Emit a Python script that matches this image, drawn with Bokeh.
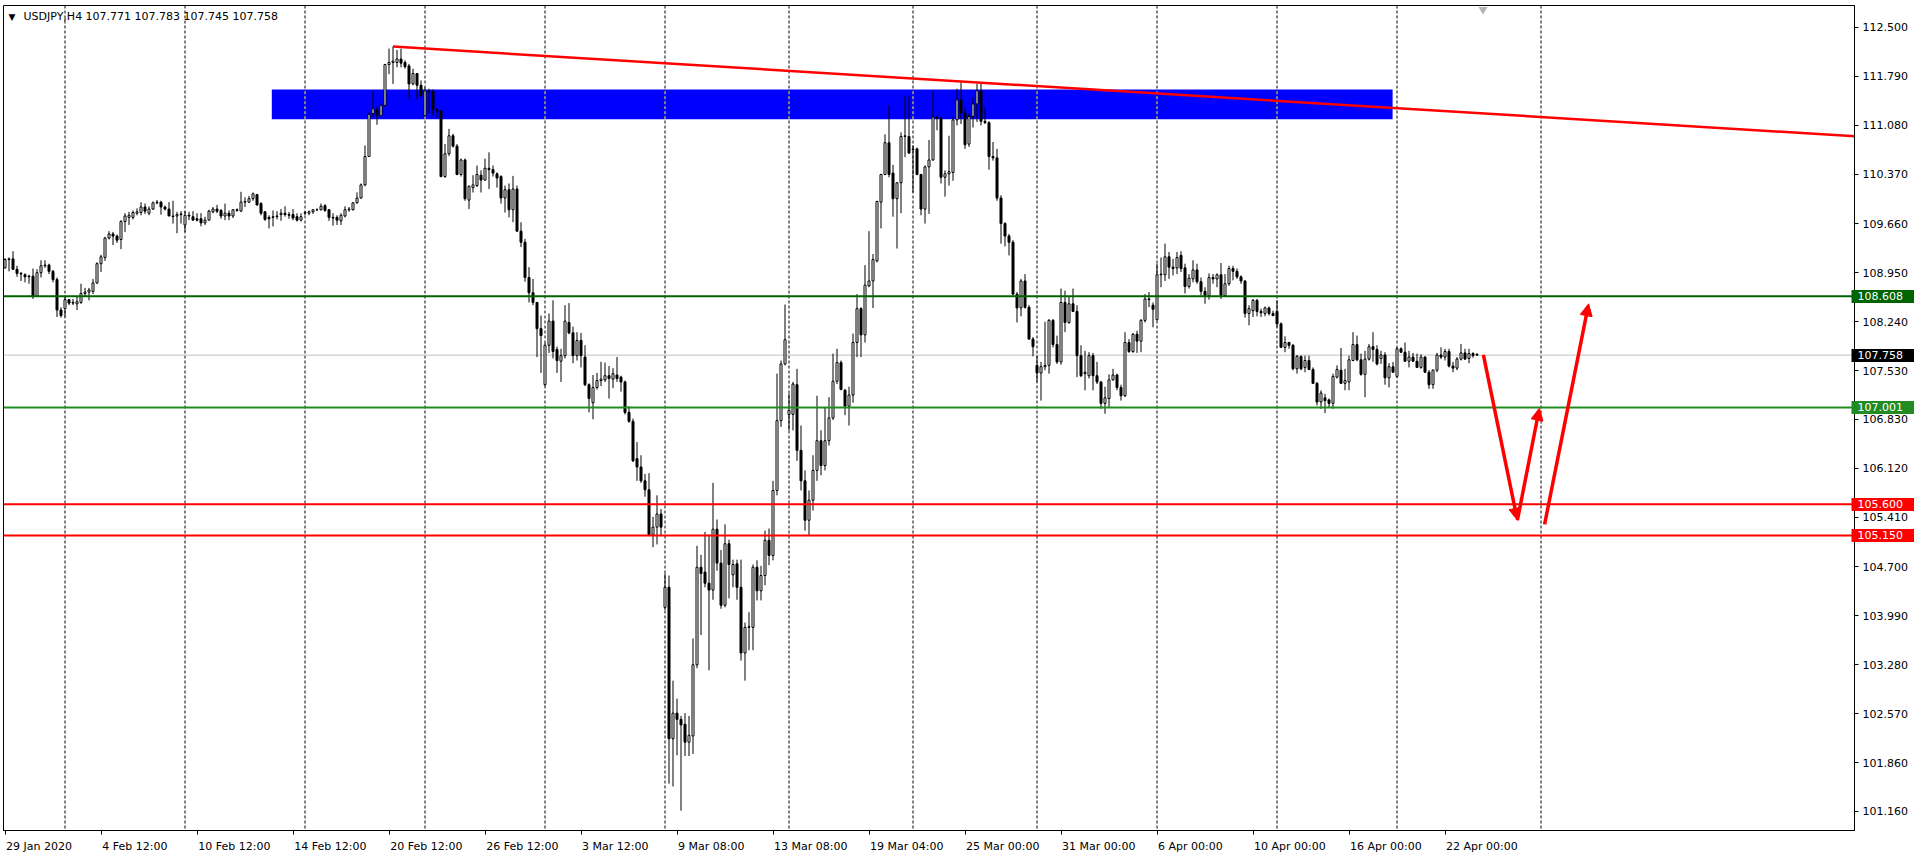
from bokeh.plotting import figure
from bokeh.models import (ColumnDataSource, FixedTicker, LinearAxis, Span, Label,
                          Arrow, NormalHead, NumeralTickFormatter, Range1d)
from bokeh.embed import file_html
from bokeh.resources import INLINE

# ---------------- data (USDJPY H4, one value per bar) ----------------
opens = [
    109.02, 109.14, 109.15, 109.00, 108.94, 108.92, 108.90, 108.90, 108.61, 108.95,
    109.05, 109.06, 108.97, 108.85, 108.41, 108.43, 108.56, 108.51, 108.50, 108.52,
    108.65, 108.67, 108.68, 108.80, 109.08, 109.17, 109.45, 109.51, 109.48, 109.43,
    109.69, 109.75, 109.75, 109.81, 109.82, 109.90, 109.81, 109.87, 109.96, 109.97,
    109.90, 109.87, 109.77, 109.77, 109.79, 109.64, 109.78, 109.76, 109.73, 109.73,
    109.67, 109.71, 109.83, 109.87, 109.85, 109.77, 109.81, 109.77, 109.86, 109.84,
    109.97, 109.97, 110.02, 110.08, 109.95, 109.83, 109.75, 109.75, 109.76, 109.79,
    109.81, 109.79, 109.79, 109.76, 109.71, 109.81, 109.81, 109.83, 109.86, 109.86,
    109.92, 109.86, 109.75, 109.75, 109.70, 109.77, 109.86, 109.86, 109.96, 110.03,
    110.22, 110.63, 111.25, 111.31, 111.22, 111.37, 111.96, 111.99, 111.99, 112.04,
    111.99, 111.94, 111.68, 111.83, 111.66, 111.22, 111.58, 111.57, 111.31, 111.29,
    110.34, 110.67, 110.93, 110.78, 110.37, 110.58, 110.00, 110.18, 110.21, 110.36,
    110.29, 110.46, 110.44, 110.38, 110.34, 110.03, 110.15, 109.86, 110.16, 109.55,
    109.39, 108.88, 108.66, 108.52, 108.14, 107.33, 107.90, 108.25, 107.84, 107.67,
    107.75, 108.23, 108.08, 107.75, 107.97, 107.73, 107.33, 107.07, 107.29, 107.39,
    107.40, 107.46, 107.41, 107.47, 107.44, 107.37, 106.93, 106.80, 106.26, 106.14,
    105.94, 105.81, 105.16, 105.27, 105.46, 104.11, 104.40, 102.21, 102.58, 102.49,
    102.42, 102.16, 102.25, 103.28, 104.69, 104.62, 104.46, 104.36, 105.24, 104.75,
    104.14, 105.03, 104.58, 104.74, 104.40, 103.45, 103.82, 103.82, 104.69, 104.35,
    104.57, 105.08, 104.86, 105.80, 106.81, 107.63, 106.90, 106.90, 107.33, 106.38,
    105.94, 105.37, 105.66, 106.09, 106.52, 106.16, 106.52, 106.85, 107.38, 107.65,
    107.25, 107.02, 107.18, 107.94, 108.43, 108.05, 108.76, 108.83, 109.12, 109.97,
    110.37, 110.83, 110.39, 110.02, 110.25, 110.92, 110.92, 110.73, 110.74, 110.37,
    109.87, 110.48, 110.58, 111.20, 111.19, 110.33, 110.38, 110.40, 111.16, 111.45,
    111.26, 110.81, 111.21, 111.39, 111.58, 111.14, 111.12, 110.63, 110.61, 110.03,
    109.66, 109.48, 109.39, 108.64, 108.44, 108.83, 108.45, 107.99, 107.61, 107.50,
    107.59, 107.61, 108.26, 107.91, 107.66, 108.52, 108.23, 108.50, 108.39, 107.75,
    107.49, 107.46, 107.75, 107.46, 107.37, 107.06, 107.13, 107.40, 107.47, 107.29,
    107.17, 107.94, 107.81, 108.06, 107.96, 108.26, 108.57, 108.48, 108.27, 108.92,
    108.92, 109.18, 109.03, 109.02, 109.20, 109.02, 108.75, 108.86, 108.99, 108.82,
    108.68, 108.62, 108.88, 108.86, 108.92, 108.62, 108.79, 109.01, 108.97, 108.89,
    108.83, 108.36, 108.40, 108.55, 108.39, 108.36, 108.44, 108.36, 108.39, 108.21,
    107.87, 107.94, 107.90, 107.56, 107.74, 107.58, 107.68, 107.55, 107.35, 107.08,
    107.14, 107.11, 107.06, 107.44, 107.54, 107.35, 107.37, 107.68, 107.91, 107.69,
    107.48, 107.70, 107.88, 107.84, 107.71, 107.76, 107.43, 107.59, 107.45, 107.85,
    107.80, 107.67, 107.73, 107.67, 107.58, 107.73, 107.51, 107.33, 107.54, 107.76,
    107.73, 107.81, 107.60, 107.57, 107.70, 107.79, 107.71, 107.78, 107.771,
]
highs = [
    109.16, 109.17, 109.26, 109.05, 108.96, 108.94, 108.92, 109.01, 109.00, 109.13,
    109.13, 109.08, 108.99, 108.88, 108.45, 108.60, 108.57, 108.57, 108.60, 108.79,
    108.73, 108.73, 108.86, 109.10, 109.21, 109.47, 109.55, 109.54, 109.50, 109.71,
    109.81, 109.83, 109.85, 109.88, 109.97, 109.95, 109.91, 109.98, 110.00, 109.99,
    109.92, 109.97, 109.99, 109.83, 109.84, 109.84, 109.83, 109.84, 109.81, 109.81,
    109.76, 109.86, 109.90, 109.93, 109.87, 109.95, 109.85, 109.87, 109.88, 110.12,
    110.04, 110.06, 110.11, 110.09, 109.97, 109.84, 109.78, 109.85, 109.84, 109.87,
    109.91, 109.83, 109.87, 109.81, 109.81, 109.84, 109.85, 109.87, 109.88, 109.95,
    109.94, 109.87, 109.81, 109.78, 109.81, 109.91, 109.90, 109.97, 110.11, 110.24,
    110.79, 111.27, 111.58, 111.35, 111.39, 111.97, 112.19, 112.22, 112.17, 112.19,
    112.02, 111.97, 111.90, 111.83, 111.73, 111.63, 111.61, 111.60, 111.33, 111.30,
    110.81, 111.03, 110.96, 110.81, 110.60, 110.60, 110.21, 110.36, 110.50, 110.43,
    110.60, 110.69, 110.50, 110.40, 110.36, 110.21, 110.24, 110.35, 110.21, 109.68,
    109.44, 109.03, 108.86, 108.52, 108.33, 107.93, 108.36, 108.55, 107.88, 107.85,
    108.48, 108.51, 108.17, 108.09, 108.08, 107.90, 107.35, 107.47, 107.50, 107.66,
    107.65, 107.60, 107.57, 107.73, 107.46, 107.39, 107.02, 106.84, 106.50, 106.31,
    106.04, 106.05, 105.42, 105.73, 105.53, 104.60, 104.57, 103.05, 102.79, 102.54,
    102.58, 102.54, 103.66, 105.00, 104.87, 105.20, 105.16, 105.91, 105.38, 104.94,
    105.31, 105.09, 104.80, 104.80, 104.80, 103.89, 104.04, 104.73, 104.79, 104.71,
    105.22, 105.25, 105.94, 107.49, 107.68, 108.49, 107.20, 107.37, 107.56, 106.74,
    106.09, 105.80, 106.31, 107.17, 106.67, 107.00, 107.15, 107.78, 107.85, 107.68,
    107.27, 107.30, 108.07, 108.64, 108.45, 109.06, 109.55, 109.22, 109.99, 110.38,
    110.95, 111.36, 110.51, 110.26, 110.98, 111.50, 111.50, 110.79, 110.76, 110.38,
    110.50, 110.87, 111.58, 111.22, 111.20, 110.43, 110.93, 111.20, 111.61, 111.70,
    111.34, 111.25, 111.49, 111.68, 111.70, 111.34, 111.14, 110.84, 110.74, 110.07,
    109.68, 109.51, 109.42, 108.67, 108.86, 108.93, 108.48, 108.02, 107.75, 107.66,
    108.24, 108.28, 108.28, 108.04, 108.72, 108.69, 108.60, 108.72, 108.48, 107.90,
    107.82, 107.80, 107.79, 107.66, 107.38, 107.30, 107.48, 107.56, 107.49, 107.33,
    108.09, 107.99, 108.08, 108.11, 108.28, 108.64, 108.67, 108.52, 109.08, 109.17,
    109.37, 109.25, 109.15, 109.25, 109.26, 109.08, 108.93, 109.13, 109.08, 108.88,
    108.74, 108.94, 108.93, 108.94, 109.09, 108.93, 109.05, 109.05, 109.01, 108.91,
    108.84, 108.48, 108.57, 108.57, 108.43, 108.46, 108.46, 108.40, 108.55, 108.23,
    108.03, 107.95, 107.92, 107.76, 107.75, 107.75, 107.75, 107.58, 107.37, 107.25,
    107.20, 107.13, 107.49, 107.61, 107.86, 107.56, 107.75, 108.09, 108.04, 107.78,
    107.82, 107.92, 108.09, 107.90, 107.82, 107.80, 107.64, 107.66, 107.87, 107.87,
    107.94, 107.82, 107.79, 107.78, 107.77, 107.74, 107.54, 107.55, 107.79, 107.87,
    107.85, 107.85, 107.66, 107.73, 107.92, 107.85, 107.85, 107.80, 107.783,
]
lows = [
    109.01, 108.97, 108.99, 108.89, 108.83, 108.81, 108.79, 108.57, 108.60, 108.88,
    109.02, 108.93, 108.81, 108.31, 108.30, 108.31, 108.48, 108.48, 108.41, 108.50,
    108.60, 108.55, 108.64, 108.79, 108.96, 109.12, 109.43, 109.35, 109.38, 109.29,
    109.54, 109.64, 109.72, 109.78, 109.78, 109.80, 109.78, 109.86, 109.94, 109.79,
    109.85, 109.77, 109.66, 109.52, 109.66, 109.54, 109.71, 109.71, 109.69, 109.62,
    109.64, 109.70, 109.81, 109.81, 109.73, 109.71, 109.71, 109.74, 109.83, 109.83,
    109.90, 109.96, 109.99, 109.92, 109.78, 109.70, 109.59, 109.62, 109.72, 109.70,
    109.76, 109.73, 109.71, 109.69, 109.69, 109.78, 109.78, 109.80, 109.84, 109.85,
    109.83, 109.70, 109.63, 109.64, 109.64, 109.75, 109.83, 109.85, 109.95, 110.02,
    110.20, 110.63, 111.20, 111.09, 111.21, 111.35, 111.82, 111.68, 111.92, 111.92,
    111.90, 111.46, 111.66, 111.45, 111.49, 111.21, 111.25, 111.22, 111.19, 110.33,
    110.32, 110.64, 110.76, 110.36, 110.34, 109.99, 109.87, 110.11, 110.19, 110.11,
    110.28, 110.16, 110.34, 110.18, 109.95, 109.82, 109.75, 109.68, 109.55, 109.32,
    108.82, 108.52, 108.48, 107.73, 107.50, 107.31, 107.79, 107.71, 107.50, 107.37,
    107.71, 108.06, 107.64, 107.68, 107.58, 107.31, 106.93, 106.83, 107.26, 107.31,
    107.37, 107.13, 107.28, 107.37, 107.23, 106.90, 106.78, 106.21, 105.94, 105.91,
    105.71, 105.14, 104.98, 105.02, 105.14, 104.07, 101.56, 101.52, 101.97, 101.17,
    101.96, 101.96, 101.99, 103.23, 103.71, 104.40, 103.20, 104.22, 104.64, 104.09,
    104.11, 104.24, 104.40, 104.22, 103.34, 103.05, 103.49, 103.49, 104.21, 104.21,
    104.43, 104.72, 104.79, 105.73, 106.72, 107.61, 106.67, 106.67, 106.23, 105.80,
    105.22, 105.14, 105.51, 105.94, 106.02, 106.09, 106.45, 106.82, 107.34, 107.25,
    106.89, 106.74, 107.07, 107.73, 107.73, 107.94, 108.74, 108.44, 109.10, 109.59,
    110.36, 110.33, 109.76, 109.30, 109.81, 110.62, 110.67, 110.11, 110.36, 109.78,
    109.66, 109.80, 110.57, 111.01, 110.24, 110.05, 110.21, 110.28, 111.08, 111.10,
    110.74, 110.77, 111.05, 111.13, 111.08, 111.10, 110.44, 110.57, 109.99, 109.37,
    109.33, 109.20, 108.62, 108.23, 108.32, 108.43, 107.98, 107.74, 107.37, 107.10,
    107.54, 107.49, 107.87, 107.63, 107.62, 108.09, 108.21, 108.38, 107.44, 107.44,
    107.25, 107.42, 107.25, 107.34, 106.98, 106.91, 107.00, 107.39, 107.25, 107.10,
    107.15, 107.79, 107.79, 107.79, 107.80, 108.23, 108.45, 108.16, 108.26, 108.74,
    108.83, 108.86, 108.91, 108.93, 108.96, 108.65, 108.72, 108.81, 108.79, 108.62,
    108.50, 108.56, 108.79, 108.74, 108.57, 108.60, 108.76, 108.84, 108.86, 108.79,
    108.30, 108.19, 108.31, 108.32, 108.31, 108.32, 108.33, 108.32, 108.16, 107.86,
    107.80, 107.85, 107.54, 107.49, 107.54, 107.51, 107.54, 107.34, 107.03, 106.98,
    106.92, 107.00, 106.98, 107.42, 107.34, 107.25, 107.25, 107.67, 107.67, 107.46,
    107.15, 107.68, 107.66, 107.61, 107.63, 107.33, 107.29, 107.50, 107.44, 107.79,
    107.66, 107.58, 107.66, 107.58, 107.56, 107.50, 107.27, 107.27, 107.51, 107.70,
    107.68, 107.58, 107.51, 107.54, 107.68, 107.69, 107.64, 107.72, 107.745,
]
closes = [
    109.14, 109.15, 109.00, 108.94, 108.93, 108.89, 108.89, 108.61, 108.95, 109.05,
    109.06, 108.97, 108.85, 108.41, 108.33, 108.56, 108.51, 108.52, 108.53, 108.65,
    108.67, 108.70, 108.80, 109.08, 109.18, 109.45, 109.51, 109.48, 109.42, 109.69,
    109.77, 109.78, 109.82, 109.83, 109.90, 109.84, 109.87, 109.96, 109.97, 109.90,
    109.87, 109.77, 109.76, 109.79, 109.80, 109.78, 109.77, 109.71, 109.71, 109.67,
    109.71, 109.84, 109.87, 109.84, 109.77, 109.81, 109.77, 109.86, 109.85, 109.97,
    109.98, 110.02, 110.09, 109.93, 109.81, 109.72, 109.73, 109.76, 109.77, 109.81,
    109.79, 109.78, 109.74, 109.71, 109.76, 109.82, 109.83, 109.86, 109.86, 109.91,
    109.85, 109.75, 109.74, 109.71, 109.78, 109.86, 109.87, 109.96, 110.03, 110.22,
    110.63, 111.24, 111.32, 111.22, 111.37, 111.96, 111.99, 112.01, 112.04, 111.98,
    111.93, 111.68, 111.83, 111.66, 111.51, 111.58, 111.57, 111.31, 111.29, 110.34,
    110.67, 110.93, 110.78, 110.37, 110.58, 110.02, 110.20, 110.22, 110.37, 110.29,
    110.46, 110.44, 110.39, 110.32, 110.03, 110.15, 109.86, 110.16, 109.55, 109.39,
    108.88, 108.66, 108.52, 108.14, 108.04, 107.90, 108.25, 107.81, 107.68, 107.75,
    108.25, 108.08, 107.75, 107.97, 107.75, 107.33, 107.13, 107.29, 107.39, 107.41,
    107.46, 107.42, 107.49, 107.42, 107.37, 106.93, 106.80, 106.23, 106.14, 105.94,
    105.81, 105.16, 105.27, 105.46, 105.27, 104.40, 102.21, 102.58, 102.49, 102.41,
    102.16, 102.26, 103.28, 104.69, 104.60, 104.46, 104.36, 105.24, 104.75, 104.14,
    105.03, 104.73, 104.73, 104.40, 103.45, 103.82, 103.83, 104.69, 104.35, 104.57,
    105.08, 104.86, 105.80, 106.81, 107.63, 107.98, 106.96, 107.34, 106.38, 105.94,
    105.37, 105.66, 106.09, 106.52, 106.16, 106.52, 106.85, 107.38, 107.65, 107.26,
    107.02, 107.18, 107.94, 108.43, 108.05, 108.77, 108.83, 109.14, 109.98, 110.37,
    110.83, 110.37, 110.02, 110.25, 110.92, 110.93, 110.68, 110.74, 110.37, 109.87,
    110.48, 110.58, 111.20, 111.19, 110.33, 110.38, 110.41, 111.16, 111.45, 111.26,
    110.80, 111.21, 111.39, 111.58, 111.14, 111.12, 110.63, 110.61, 110.03, 109.66,
    109.48, 109.39, 108.64, 108.44, 108.83, 108.45, 107.99, 107.88, 107.50, 107.59,
    107.61, 108.26, 107.91, 107.66, 108.52, 108.23, 108.50, 108.39, 107.75, 107.46,
    107.51, 107.75, 107.46, 107.37, 107.06, 107.14, 107.40, 107.47, 107.29, 107.17,
    107.94, 107.81, 108.06, 107.96, 108.26, 108.57, 108.56, 108.42, 108.92, 108.93,
    109.18, 109.03, 109.01, 109.17, 109.01, 108.75, 108.87, 108.99, 108.82, 108.68,
    108.62, 108.88, 108.86, 108.92, 108.62, 108.79, 109.01, 108.97, 108.89, 108.83,
    108.36, 108.43, 108.55, 108.39, 108.37, 108.44, 108.36, 108.33, 108.21, 107.87,
    107.94, 107.90, 107.56, 107.74, 107.56, 107.68, 107.55, 107.35, 107.08, 107.21,
    107.10, 107.06, 107.45, 107.55, 107.35, 107.39, 107.69, 107.91, 107.69, 107.48,
    107.70, 107.88, 107.84, 107.63, 107.76, 107.43, 107.59, 107.51, 107.85, 107.80,
    107.67, 107.73, 107.67, 107.58, 107.73, 107.51, 107.33, 107.54, 107.76, 107.73,
    107.81, 107.60, 107.57, 107.70, 107.79, 107.70, 107.78, 107.75, 107.758,
]

# time axis (bar index -> label)
tick_bars = [0, 24, 48, 72, 96, 120, 144, 168, 192, 216, 240, 264, 288, 312, 336, 360]
tick_texts = ["29 Jan 2020", "4 Feb 12:00", "10 Feb 12:00", "14 Feb 12:00", "20 Feb 12:00",
              "26 Feb 12:00", "3 Mar 12:00", "9 Mar 08:00", "13 Mar 08:00", "19 Mar 04:00",
              "25 Mar 00:00", "31 Mar 00:00", "6 Apr 00:00", "10 Apr 00:00", "16 Apr 00:00",
              "22 Apr 00:00"]
grid_bars = [15, 45, 75, 105, 135, 165, 196, 227, 258, 288, 318, 348, 384]
price_ticks = [112.50, 111.79, 111.08, 110.37, 109.66, 108.95, 108.24, 107.53, 106.83,
               106.12, 105.41, 104.70, 103.99, 103.28, 102.57, 101.86, 101.16]

# drawn objects
levels = [108.608, 107.001, 105.600, 105.150]
level_colors = ["#006400", "#228B22", "#FF0000", "#FF0000"]
last_price = 107.758
zone_left, zone_right = 66.7, 346.9
zone_bottom, zone_top = 111.17, 111.60
trend_x = [97.0, 243.5]
trend_y = [112.22, 111.70]
arrow_x0 = [369.6, 378.1, 384.9]
arrow_y0 = [107.76, 105.37, 105.31]
arrow_x1 = [378.1, 383.6, 395.9]
arrow_y1 = [105.37, 106.99, 108.50]
shift_marker_bar = 369.5
title_text = "USDJPY,H4  107.771 107.783 107.745 107.758"

# ---------------- figure ----------------
FONT = "DejaVu Sans"
X0, X1 = -0.375, 462.375
Y0, Y1 = 100.883, 112.814

p = figure(frame_width=1851, frame_height=825,
           x_range=Range1d(X0, X1), y_range=Range1d(Y0, Y1),
           y_axis_location="right", toolbar_location=None, output_backend="svg",
           min_border_left=3, min_border_top=5, min_border_right=60, min_border_bottom=0,
           background_fill_color="white", border_fill_color="white",
           outline_line_color="black", outline_line_width=1)
p.xgrid.visible = False
p.ygrid.visible = False

# bottom axis: tick marks at the bar positions (minor ticks), labels placed to their right
cw = {"0": .636, "1": .636, "2": .636, "3": .636, "4": .636, "5": .636, "6": .636,
      "7": .636, "8": .636, "9": .636, " ": .318, ":": .337, ".": .318, "J": .295,
      "a": .613, "n": .634, "F": .575, "e": .615, "b": .635, "M": .863, "r": .411,
      "A": .684, "p": .635}


def text_w(s):
    return sum(cw.get(ch, 0.6) for ch in s) * 11.0


label_pos = [round(b + (text_w(t) / 2.0 + 1.0) / 4.0, 2) for b, t in zip(tick_bars, tick_texts)]
ax = p.below[0]
ax.ticker = FixedTicker(ticks=label_pos, minor_ticks=tick_bars)
ax.major_label_overrides = {pos: t for pos, t in zip(label_pos, tick_texts)}
ax.major_tick_out = 0
ax.major_tick_in = 0
ax.minor_tick_out = 4
ax.minor_tick_in = 0
ax.minor_tick_line_color = "black"
ax.axis_line_color = "black"
ax.major_label_standoff = 5
ax.major_label_text_font = FONT
ax.major_label_text_font_size = "11px"
ax.major_label_text_color = "black"

# right price axis
ay = p.right[0]
ay.axis_label = None
ay.ticker = FixedTicker(ticks=price_ticks)
ay.formatter = NumeralTickFormatter(format="0.000")
ay.major_tick_out = 4
ay.major_tick_in = 0
ay.minor_tick_out = 0
ay.minor_tick_in = 0
ay.major_label_standoff = 4
ay.major_label_text_font = FONT
ay.major_label_text_font_size = "11px"
ay.major_label_text_color = "black"
ay.axis_line_color = "black"

# coloured price tags on the scale: extra right axes whose thick ticks form the tag boxes
tag_groups = {}
for lv, col in list(zip(levels, level_colors)) + [(last_price, "#000000")]:
    tag_groups.setdefault(col, []).append(lv)
for col, lvs in tag_groups.items():
    tag_ax = LinearAxis(ticker=FixedTicker(ticks=lvs),
                        formatter=NumeralTickFormatter(format="0.000"),
                        axis_label=None, axis_line_color=None,
                        major_tick_in=59, major_tick_out=5,
                        major_tick_line_color=col, major_tick_line_width=13,
                        minor_tick_in=0, minor_tick_out=0,
                        major_label_standoff=-58,
                        major_label_text_font=FONT, major_label_text_font_size="11px",
                        major_label_text_color="white")
    p.add_layout(tag_ax, "right")

# vertical dashed grid (weekly separators)
for g in grid_bars:
    p.add_layout(Span(location=g, dimension="height", line_color="black",
                      line_width=1, line_dash="3 2", level="underlay"))
# current price line
p.add_layout(Span(location=last_price, dimension="width", line_color="#C0C0C0",
                  line_width=1, level="underlay"))

# blue resistance zone
p.quad(left=[zone_left], right=[zone_right], top=[zone_top], bottom=[zone_bottom],
       fill_color="#0000FF", line_color=None)
zg = [g for g in grid_bars if zone_left <= g <= zone_right]
p.segment(x0=zg, y0=[zone_bottom] * len(zg), x1=zg, y1=[zone_top] * len(zg),
          line_color="#FFFF00", line_width=1, line_dash="3 2")

# candles
n = min(len(opens), len(highs), len(lows), len(closes))
xs = list(range(n))
hi = [max(highs[i], opens[i], closes[i]) for i in range(n)]
lo = [min(lows[i], opens[i], closes[i]) for i in range(n)]
up_i = [i for i in range(n) if closes[i] > opens[i]]
dn_i = [i for i in range(n) if closes[i] <= opens[i]]

wick_src = ColumnDataSource(dict(x=xs, h=hi, l=lo))
up_src = ColumnDataSource(dict(x=up_i, top=[closes[i] for i in up_i], bottom=[opens[i] for i in up_i]))
dn_src = ColumnDataSource(dict(x=dn_i, top=[opens[i] for i in dn_i], bottom=[closes[i] for i in dn_i]))

p.segment(x0="x", y0="l", x1="x", y1="h", source=wick_src, line_color="black", line_width=1)
p.vbar(x="x", width=0.5, top="top", bottom="bottom", source=up_src,
       fill_color="white", line_color="black", line_width=1)
p.vbar(x="x", width=0.5, top="top", bottom="bottom", source=dn_src,
       fill_color="black", line_color="black", line_width=1)

# trend line (ray to the right edge)
slope = (trend_y[1] - trend_y[0]) / (trend_x[1] - trend_x[0])
tx = [trend_x[0], X1 + 2]
ty = [trend_y[0], trend_y[0] + slope * (tx[1] - trend_x[0])]
p.line(tx, ty, line_color="#FF0000", line_width=2.5)

# horizontal levels
for lv, col in zip(levels, level_colors):
    p.add_layout(Span(location=lv, dimension="width", line_color=col, line_width=2))

# arrows
for xa, ya, xb, yb in zip(arrow_x0, arrow_y0, arrow_x1, arrow_y1):
    p.add_layout(Arrow(x_start=xa, y_start=ya, x_end=xb, y_end=yb,
                       line_color="#FF0000", line_width=3.5,
                       end=NormalHead(size=12, fill_color="#FF0000", line_color="#FF0000",
                                      line_width=1)))

# chart-shift marker at the top edge
p.scatter(x=[shift_marker_bar], y=[Y1 - 0.06], marker="inverted_triangle", size=9,
          fill_color="#B4B4B4", line_color=None)

# title
p.add_layout(Label(x=X0 + 1.25, y=Y1 - 0.16, text="\u25bc", text_font=FONT,
                   text_font_size="9px", text_color="black", text_align="left",
                   text_baseline="middle"))
p.add_layout(Label(x=X0 + 5.0, y=Y1 - 0.16, text=title_text, text_font=FONT,
                   text_font_size="11px", text_color="black", text_align="left",
                   text_baseline="middle"))

open("out.html", "w").write(file_html(p, INLINE))
